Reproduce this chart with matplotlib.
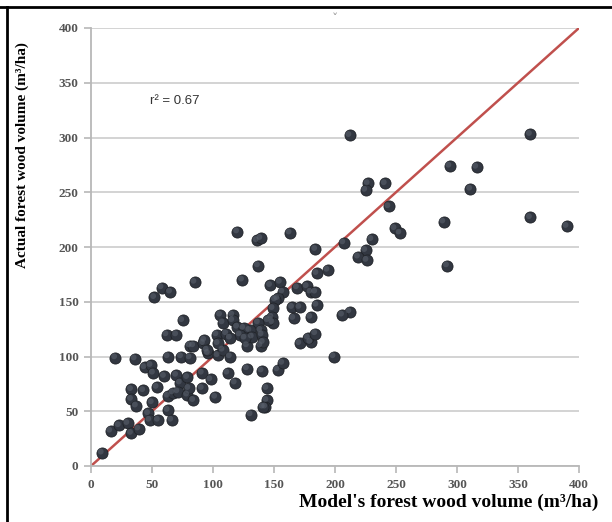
import numpy as np
import matplotlib
matplotlib.use("Agg")
import matplotlib.pyplot as plt
from matplotlib.transforms import offset_copy

model_x = [9, 16, 23, 30, 33, 39, 20, 36, 33, 43, 33, 37, 44, 49, 51, 54, 50, 47, 48, 55,
           60, 63, 63, 66, 63, 67, 70, 73, 71, 79, 74, 81, 81, 79, 80, 84, 62, 70, 75, 52,
           58, 65, 85, 84, 92, 96, 104, 108, 114, 91, 98, 91, 102, 112, 118, 128, 140, 128, 139,
           153, 157, 171, 180, 144, 144, 143, 131, 120, 136, 139, 163, 184, 137, 124, 147, 155,
           157, 153, 151, 169, 177, 180, 184, 185, 165, 171, 166, 180, 149, 148, 149, 145, 106,
           116, 108, 116, 120, 137, 139, 130, 125, 122, 132, 140, 141, 103, 104, 111, 114, 93,
           178, 184, 212, 360, 294, 316, 227, 225, 241, 311, 244, 289, 360, 390, 249, 253, 230,
           207, 225, 219, 226, 292, 194, 212, 206, 185, 199, 126, 141, 95]
actual_y = [12, 32, 37, 39, 30, 34, 99, 98, 70, 69, 61, 55, 90, 92, 85, 72, 58, 48, 42, 42,
            82, 100, 51, 42, 64, 67, 83, 76, 68, 65, 100, 99, 110, 81, 71, 60, 120, 120, 133, 154,
            163, 159, 168, 110, 112, 103, 101, 106, 100, 85, 79, 71, 63, 85, 76, 89, 87, 110, 110,
            88, 94, 112, 113, 71, 60, 54, 47, 214, 206, 208, 213, 198, 183, 170, 165, 168,
            159, 153, 152, 163, 164, 159, 159, 176, 145, 145, 135, 136, 144, 136, 131, 133, 138,
            138, 131, 133, 127, 131, 124, 124, 126, 120, 118, 120, 113, 120, 112, 121, 117, 115,
            117, 121, 302, 303, 274, 273, 258, 252, 258, 253, 237, 223, 227, 219, 217, 213, 207,
            204, 197, 191, 188, 183, 179, 141, 138, 147, 100, 117, 54, 106]

ticks = [0, 50, 100, 150, 200, 250, 300, 350, 400]
r2_text = "r² = 0.67"

fig = plt.figure(figsize=(6.12, 5.22), dpi=100)
ax = fig.add_axes([91/612, 1 - 466/522, 488/612, 438/522])

ax.set_xlim(0, 400)
ax.set_ylim(0, 400)
ax.set_xticks(ticks)
ax.set_yticks(ticks)
ax.yaxis.grid(True, color="#d0d0d0", linewidth=1.3)
ax.set_axisbelow(True)
for s in ["top", "right"]:
    ax.spines[s].set_visible(False)
for s in ["left", "bottom"]:
    ax.spines[s].set_color("#b8b8b8")
    ax.spines[s].set_linewidth(1.3)
ax.tick_params(axis="both", direction="out", length=5, width=1.2, color="#b8b8b8",
               labelcolor="#555555", labelsize=9.5, pad=4)
for lab in ax.get_xticklabels() + ax.get_yticklabels():
    lab.set_fontfamily("Liberation Serif")
    lab.set_fontweight("bold")

# linea 1:1
ax.plot([0, 400], [0, 400], color="#c0504d", linewidth=1.8, zorder=2)

# puntos (esfera oscura con un brillo leve)
ax.scatter(model_x, actual_y, s=64, color="#323741", edgecolor="#202328",
           linewidth=0.6, zorder=3)
brillo = offset_copy(ax.transData, fig=fig, x=-1.3, y=1.3, units="dots")
ax.scatter(model_x, actual_y, s=18, color="#5d6470", edgecolor="none", alpha=0.55,
           transform=brillo, zorder=4)

ax.text(48, 331, r2_text, fontsize=9.5, color="#333333", family="Liberation Sans")
ax.text(0.5, 1.005, "ˇ", transform=ax.transAxes, ha="center", va="bottom",
        fontsize=9, color="#9a9a9a")

fig.text(598/612, 1 - 502/522, "Model's forest wood volume (m³/ha)", ha="right", va="center",
         fontsize=14, fontweight="bold", family="Liberation Serif")
fig.text(22/612, 1 - 155/522, "Actual forest wood volume (m³/ha)", ha="center", va="center",
         rotation=90, fontsize=11, fontweight="bold", family="Liberation Serif")

# marco de la tabla
fig.add_artist(plt.Line2D([0, 1], [1 - 7/522, 1 - 7/522], color="black", linewidth=2))
fig.add_artist(plt.Line2D([7/612, 7/612], [0, 1 - 7/522], color="black", linewidth=2))

fig.savefig("out.png", dpi=100)
